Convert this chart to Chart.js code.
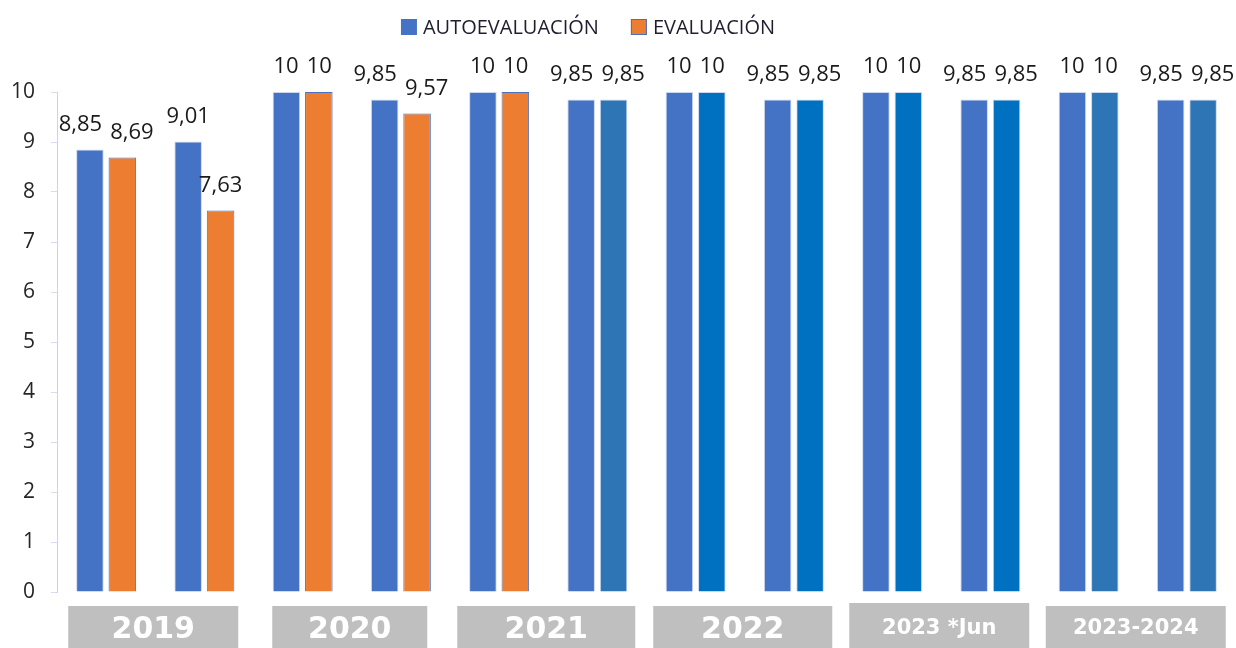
<!DOCTYPE html>
<html>
<head>
<meta charset="utf-8">
<script src="https://cdn.jsdelivr.net/npm/chart.js@4.4.1/dist/chart.umd.min.js"></script>
<style>
  html, body { margin: 0; padding: 0; background: #fff; }
  #c { display: block; }
</style>
</head>
<body>
<canvas id="c" width="1236" height="648"></canvas>
<script>
// semesters, two per year group
const periodos = ['2019-1', '2019-2', '2020-1', '2020-2', '2021-1', '2021-2', '2022-1', '2022-2', '2023-1', '2023-2', '2024-1', '2024-2'];
const grupos = ['2019', '2020', '2021', '2022', '2023 *Jun', '2023-2024'];
const autoevaluacion = [8.85, 9.01, 10, 9.85, 10, 9.85, 10, 9.85, 10, 9.85, 10, 9.85];
const evaluacion = [8.69, 7.63, 10, 9.57, 10, 9.85, 10, 9.85, 10, 9.85, 10, 9.85];
const yTicks = [0, 1, 2, 3, 4, 5, 6, 7, 8, 9, 10];

// styles
const AUTO_COLOR = '#4472C4';
const evalColors = ['#ED7D31', '#ED7D31', '#ED7D31', '#ED7D31', '#ED7D31', '#2E75B6', '#0070C0', '#0070C0', '#0070C0', '#0070C0', '#2E75B6', '#2E75B6'];
const evalBorders = evalColors.map(c => c === '#ED7D31' ? '#4A72C0' : 'rgba(190,205,235,0.8)');
const boxWidths = [170, 155, 178, 179, 180, 180];
const boxFonts = ['bold 30px "DejaVu Sans"', 'bold 30px "DejaVu Sans"', 'bold 30px "DejaVu Sans"', 'bold 30px "DejaVu Sans"', 'bold 21px "DejaVu Sans"', 'bold 21px "DejaVu Sans"'];
const FONT = '"Open Sans", "Liberation Sans", sans-serif';

const fmt = (v) => String(v).replace('.', ',');

// legend drawn by hand so it can sit off-centre like the original
const legendPlugin = {
  id: 'legendTop',
  afterDraw(chart) {
    const ctx = chart.ctx;
    ctx.save();
    ctx.font = '20px ' + FONT;
    ctx.textBaseline = 'middle';
    const items = chart.data.datasets.map(d => ({
      text: d.label,
      fill: Array.isArray(d.backgroundColor) ? d.backgroundColor[0] : d.backgroundColor
    }));
    const box = 16, gap = 6, between = 32;
    const total = items.reduce((s, it) => s + box + gap + ctx.measureText(it.text).width, 0) + between * (items.length - 1);
    let x = 588 - total / 2;
    const y = 27;
    items.forEach(it => {
      ctx.fillStyle = it.fill;
      ctx.fillRect(x, y - box / 2, box, box);
      if (it.fill === '#ED7D31') {
        ctx.strokeStyle = '#4A72C0';
        ctx.lineWidth = 1;
        ctx.strokeRect(x + 0.5, y - box / 2 + 0.5, box - 1, box - 1);
      }
      x += box + gap;
      ctx.fillStyle = '#1e1e2e';
      ctx.fillText(it.text, x, y + 1);
      x += ctx.measureText(it.text).width + between;
    });
    ctx.restore();
  }
};

// value labels above bars, pushed apart where two would collide
const valuePlugin = {
  id: 'values',
  afterDatasetsDraw(chart) {
    const ctx = chart.ctx;
    const m0 = chart.getDatasetMeta(0), m1 = chart.getDatasetMeta(1);
    ctx.save();
    ctx.font = '22px ' + FONT;
    ctx.fillStyle = '#1a1a1a';
    ctx.textAlign = 'center';
    ctx.textBaseline = 'alphabetic';
    m0.data.forEach((b0, i) => {
      const b1 = m1.data[i];
      const t0 = fmt(autoevaluacion[i]), t1 = fmt(evaluacion[i]);
      const w0 = ctx.measureText(t0).width, w1 = ctx.measureText(t1).width;
      let x0 = b0.x, x1 = b1.x;
      const y0 = b0.y - 19, y1 = b1.y - 19;
      const need = (w0 + w1) / 2 + 8;
      if (Math.abs(y0 - y1) < 16 && need > x1 - x0) {
        const push = (need - (x1 - x0)) / 2;
        x0 -= push; x1 += push;
      }
      ctx.fillText(t0, x0, y0);
      ctx.fillText(t1, x1, y1);
    });
    ctx.restore();
  }
};

// grey year boxes under each pair of semesters
const yearPlugin = {
  id: 'years',
  afterDraw(chart) {
    const ctx = chart.ctx, xs = chart.scales.x;
    ctx.save();
    grupos.forEach((g, k) => {
      const cx = (xs.getPixelForValue(2 * k) + xs.getPixelForValue(2 * k + 1)) / 2 - 2;
      const w = boxWidths[k];
      const top = k === 4 ? 603 : 606;
      ctx.fillStyle = '#BFBFBF';
      ctx.fillRect(cx - w / 2, top, w, chart.height - top);
      ctx.fillStyle = '#ffffff';
      ctx.font = boxFonts[k];
      ctx.textAlign = 'center';
      ctx.textBaseline = 'middle';
      ctx.fillText(g, cx, k >= 4 ? 629 : 630);
    });
    ctx.restore();
  }
};

new Chart(document.getElementById('c'), {
  type: 'bar',
  data: {
    labels: periodos,
    datasets: [
      { label: 'AUTOEVALUACIÓN', data: autoevaluacion, backgroundColor: AUTO_COLOR, borderColor: 'rgba(190,205,235,0.8)', borderWidth: 1 },
      { label: 'EVALUACIÓN', data: evaluacion, backgroundColor: evalColors, borderColor: evalBorders, borderWidth: 1 }
    ]
  },
  options: {
    responsive: false,
    animation: false,
    devicePixelRatio: 1,
    layout: { padding: { top: 92, bottom: 56, left: 0, right: 0 } },
    datasets: { bar: { categoryPercentage: 0.66, barPercentage: 0.85 } },
    plugins: { legend: { display: false }, tooltip: { enabled: false } },
    scales: {
      x: { display: false },
      y: {
        min: 0, max: 10,
        afterFit: (s) => { s.width = 57; },
        afterBuildTicks: (s) => { s.ticks = yTicks.map(v => ({ value: v })); },
        ticks: { font: { family: FONT, size: 21 }, color: '#262626', padding: 16 },
        grid: { drawOnChartArea: false, drawTicks: true, tickLength: 6, color: '#D5DDEE' },
        border: { display: true, color: '#C8D3EC', width: 1 }
      }
    }
  },
  plugins: [legendPlugin, valuePlugin, yearPlugin]
});
</script>
</body>
</html>
